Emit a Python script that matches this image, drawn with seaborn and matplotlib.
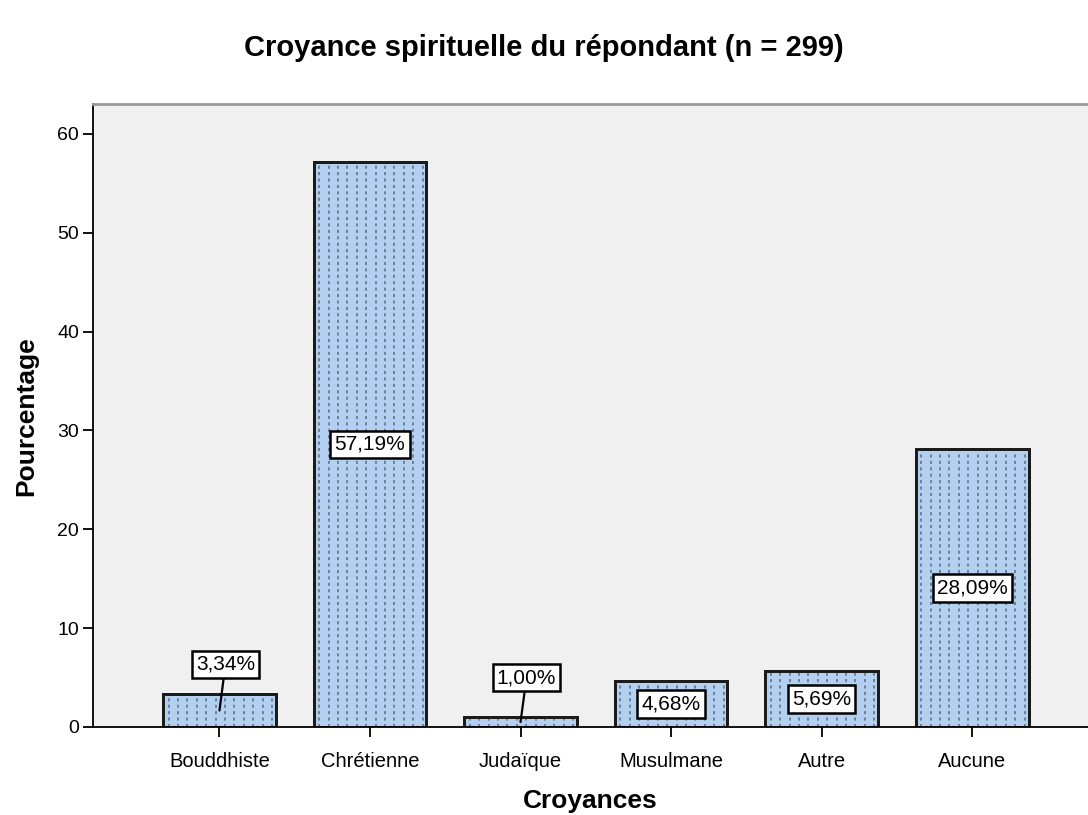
import matplotlib
matplotlib.use("Agg")
import matplotlib.pyplot as plt
import seaborn as sns
import pandas as pd
import numpy as np

categories = ["Bouddhiste", "Chrétienne", "Judaïque", "Musulmane", "Autre", "Aucune"]
percentages = [3.34, 57.19, 1.00, 4.68, 5.69, 28.09]
labels = ["3,34%", "57,19%", "1,00%", "4,68%", "5,69%", "28,09%"]

sns.set_style("white")
plt.rcParams['font.family'] = ['Liberation Sans', 'DejaVu Sans']
plt.rcParams['text.color'] = 'black'
plt.rcParams['axes.labelcolor'] = 'black'

df = pd.DataFrame({"cat": categories, "pct": percentages})

fig = plt.figure(figsize=(10.88, 8.15), dpi=100)
ax = fig.add_axes([0.0855, 0.108, 0.9145, 0.764])
ax.set_facecolor("#f0f0f0")

sns.barplot(data=df, x="cat", y="pct", ax=ax, color="#b4d0f0", width=0.75,
            edgecolor="#1a1a1a", linewidth=2, saturation=1)

# dotted vertical fill pattern, derived from each bar's geometry
ax.set_xlim(-0.84, 5.77)
ax.set_ylim(0, 63)
px_per_unit = ax.get_window_extent().width / (5.77 + 0.84)
gap = 9.4 / px_per_unit
for p in list(ax.patches):
    x0, w, h = p.get_x(), p.get_width(), p.get_height()
    xs = np.arange(x0 + gap * 0.6, x0 + w - gap * 0.3, gap)
    lc = ax.vlines(xs, 0, h, colors="#5a6a82", linewidth=1.1,
                   linestyles=[(0, (2.0, 2.2))], zorder=p.get_zorder() + 0.1)
    lc.set_clip_path(p)
    ax.add_patch(plt.Rectangle((x0, 0), w, h, fill=False, ec="#1a1a1a", lw=2,
                               zorder=p.get_zorder() + 0.2))

for i, (v, lab) in enumerate(zip(percentages, labels)):
    bbox = dict(boxstyle="square,pad=0.2", fc="white", ec="black", lw=1.8)
    if v < 4:
        ly = max(v + 3.0, 5.0)
        ax.annotate(lab, xy=(i, v / 2), xytext=(i + 0.04, ly), ha="center", va="center",
                    fontsize=15, bbox=bbox, zorder=5,
                    arrowprops=dict(arrowstyle="-", color="black", lw=1.6, shrinkA=0, shrinkB=0))
    else:
        ax.text(i, v / 2, lab, ha="center", va="center", fontsize=15, bbox=bbox, zorder=5)

ax.set_yticks([0, 10, 20, 30, 40, 50, 60])
ax.tick_params(axis="both", direction="out", length=7, width=1.3, colors="black",
               labelsize=14, left=True, bottom=True)
ax.tick_params(axis="y", pad=3)
ax.tick_params(axis="x", pad=11, labelsize=14.5)
for side in ["left", "bottom"]:
    ax.spines[side].set_color("black")
    ax.spines[side].set_linewidth(1.3)
ax.spines["right"].set_visible(False)
ax.spines["top"].set_color("#999999")
ax.spines["top"].set_linewidth(2)

ax.set_xlabel("Croyances", fontsize=19, fontweight="bold", labelpad=13)
ax.set_ylabel("Pourcentage", fontsize=19, fontweight="bold", labelpad=14)
fig.suptitle("Croyance spirituelle du répondant (n = 299)", fontsize=21,
             fontweight="bold", y=0.958)

fig.savefig("out.png", dpi=100)
